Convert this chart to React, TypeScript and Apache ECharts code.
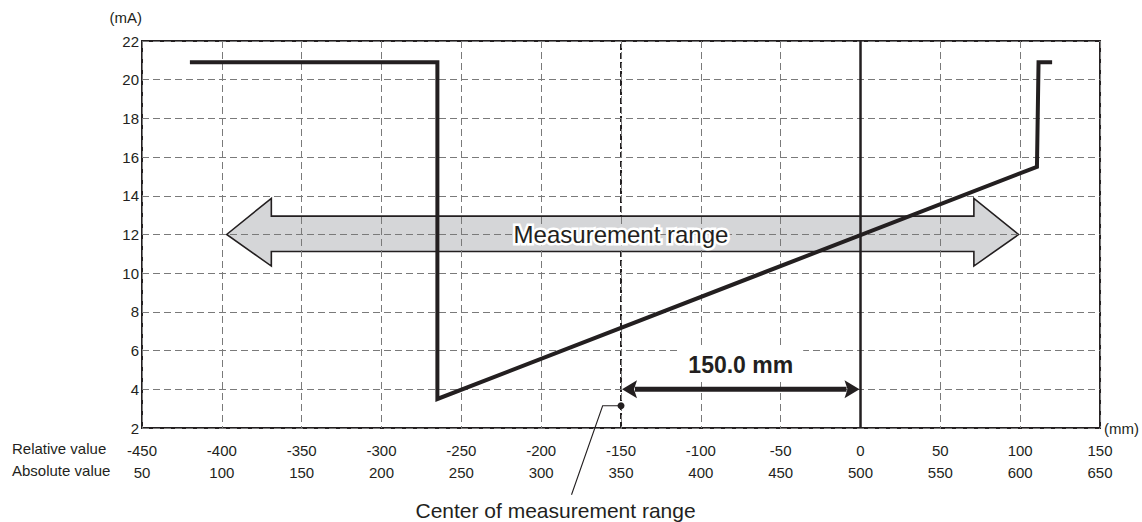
import React, { useEffect, useRef } from "react";
import * as echarts from "echarts";

// ---- data ----
const relativeTicks = [-450, -400, -350, -300, -250, -200, -150, -100, -50, 0, 50, 100, 150];
const absoluteTicks = [50, 100, 150, 200, 250, 300, 350, 400, 450, 500, 550, 600, 650];
const rowTitles = ["Relative value", "Absolute value"];

// analog output (mA) vs relative distance (mm)
const outputCurve: [number, number][] = [
  [-420, 20.9],
  [-265, 20.9],
  [-265, 3.5],
  [110.5, 15.5],
  [111.5, 20.9],
  [120, 20.9],
];
const zeroLine: [number, number][] = [[0, 2], [0, 22]];
const centerLine: [number, number][] = [[-150, 2], [-150, 22]];

// measurement range block arrow (mm, mA)
const rangeArrow: [number, number][] = [
  [-397, 12], [-369, 13.87], [-369, 12.95], [71, 12.95], [71, 13.87],
  [99, 12], [71, 10.37], [71, 11.12], [-369, 11.12], [-369, 10.37],
];
const rangeLabel = "Measurement range";
const rangeLabelPos: [number, number] = [-150, 12];

// 150.0 mm span arrow
const spanArrow: [number, number][] = [[-150, 4], [0, 4]];
const spanLabel = "150.0 mm";
const spanLabelPos: [number, number] = [-75, 5.25];

// center of measurement range callout
const centerDot: [number, number] = [-150, 3.15];
const leaderLine: [number, number][] = [[-150, 3.15], [-161.5, 3.15], [-181, -1.45]];
const calloutLabel = "Center of measurement range";
const calloutPos: [number, number] = [-191, -2.25];

const INK = "#231f20";
const FONT = "'Liberation Sans', Arial, Helvetica, sans-serif";

export default function App() {
  const ref = useRef<HTMLDivElement>(null);

  useEffect(() => {
    if (!ref.current) return;
    const chart = echarts.init(ref.current, null, { renderer: "svg" });

    const option: any = {
      animation: false,
      backgroundColor: "#ffffff",
      textStyle: { fontFamily: FONT },
      grid: {
        left: 142,
        right: 38,
        top: 41,
        bottom: 94,
        show: true,
        borderColor: INK,
        borderWidth: 2,
        backgroundColor: "transparent",
      },
      xAxis: {
        type: "value",
        min: -450,
        max: 150,
        interval: 50,
        z: 3,
        name: "(mm)",
        nameLocation: "end",
        nameGap: 4,
        nameTextStyle: { color: INK, fontSize: 15, fontFamily: FONT },
        axisLine: { show: false, onZero: false },
        axisTick: { show: false },
        splitLine: {
          show: true,
          lineStyle: { color: "#7a7a7a", width: 1, type: [7, 4] },
        },
        axisLabel: {
          show: true,
          showMinLabel: true,
          showMaxLabel: true,
          margin: 11,
          color: INK,
          fontSize: 15,
          fontFamily: FONT,
          lineHeight: 22,
          formatter: (v: number) => {
            const i = relativeTicks.indexOf(v);
            return i >= 0 ? `${relativeTicks[i]}\n${absoluteTicks[i]}` : "";
          },
        },
      },
      yAxis: {
        type: "value",
        min: 2,
        max: 22,
        interval: 2,
        z: 3,
        name: "(mA)",
        nameLocation: "end",
        nameGap: 16,
        nameTextStyle: { color: INK, fontSize: 15, fontFamily: FONT, align: "right" },
        axisLine: { show: false, onZero: false },
        axisTick: { show: false },
        splitLine: {
          show: true,
          lineStyle: { color: "#7a7a7a", width: 1, type: [7, 4] },
        },
        axisLabel: { color: INK, fontSize: 15, fontFamily: FONT, margin: 3 },
      },
      graphic: rowTitles.map((t, i) => ({
        type: "text",
        left: 12,
        top: 441 + i * 22,
        style: { text: t, fill: INK, fontSize: 15, fontFamily: FONT },
      })),
      series: [
        {
          type: "line",
          data: centerLine,
          z: 1,
          showSymbol: false,
          silent: true,
          lineStyle: { color: INK, width: 2, type: [6, 3] },
        },
        {
          type: "custom",
          z: 2,
          silent: true,
          clip: false,
          data: [[-150, 12]],
          renderItem: (_p: any, api: any) => ({
            type: "polygon",
            shape: { points: rangeArrow.map((p) => api.coord(p)) },
            style: { fill: "#d5d6d8", stroke: INK, lineWidth: 1.6 },
          }),
        },
        {
          type: "line",
          data: zeroLine,
          z: 5,
          showSymbol: false,
          silent: true,
          lineStyle: { color: INK, width: 2.5 },
        },
        {
          type: "line",
          data: outputCurve,
          z: 6,
          showSymbol: false,
          silent: true,
          lineStyle: { color: INK, width: 4, join: "miter", cap: "butt" },
        },
        {
          type: "custom",
          z: 8,
          silent: true,
          clip: false,
          data: [[-75, 4]],
          renderItem: (_p: any, api: any) => {
            const a = api.coord(spanArrow[0]);
            const b = api.coord(spanArrow[1]);
            const hl = 16;
            const hw = 9;
            const r = api.coord(rangeLabelPos);
            const s = api.coord(spanLabelPos);
            const dot = api.coord(centerDot);
            const lead = leaderLine.map((p) => api.coord(p));
            const c = api.coord(calloutPos);
            return {
              type: "group",
              children: [
                {
                  type: "text",
                  x: r[0],
                  y: r[1],
                  style: {
                    text: rangeLabel,
                    fill: INK,
                    fontSize: 24,
                    fontFamily: FONT,
                    align: "center",
                    verticalAlign: "middle",
                    stroke: "#ffffff",
                    lineWidth: 5,
                  },
                },
                {
                  type: "text",
                  x: s[0],
                  y: s[1],
                  style: {
                    text: spanLabel,
                    fill: INK,
                    fontSize: 23,
                    fontWeight: "bold",
                    fontFamily: FONT,
                    align: "center",
                    verticalAlign: "middle",
                    backgroundColor: "#ffffff",
                    padding: [5, 10],
                  },
                },
                {
                  type: "line",
                  shape: { x1: a[0] + hl - 2, y1: a[1], x2: b[0] - hl + 2, y2: b[1] },
                  style: { stroke: INK, lineWidth: 5 },
                },
                {
                  type: "polygon",
                  shape: { points: [[a[0] + 1, a[1]], [a[0] + hl, a[1] - hw], [a[0] + hl - 3, a[1]], [a[0] + hl, a[1] + hw]] },
                  style: { fill: INK },
                },
                {
                  type: "polygon",
                  shape: { points: [[b[0] - 1, b[1]], [b[0] - hl, b[1] - hw], [b[0] - hl + 3, b[1]], [b[0] - hl, b[1] + hw]] },
                  style: { fill: INK },
                },
                {
                  type: "polyline",
                  shape: { points: lead },
                  style: { stroke: INK, lineWidth: 1.1, fill: "none" },
                },
                {
                  type: "circle",
                  shape: { cx: dot[0], cy: dot[1], r: 3.5 },
                  style: { fill: INK },
                },
                {
                  type: "text",
                  x: c[0],
                  y: c[1],
                  style: {
                    text: calloutLabel,
                    fill: INK,
                    fontSize: 21,
                    fontFamily: FONT,
                    align: "center",
                    verticalAlign: "middle",
                  },
                },
              ],
            };
          },
        },
      ],
    };

    chart.setOption(option);
    return () => chart.dispose();
  }, []);

  return (
    <div
      ref={ref}
      style={{ position: "fixed", left: 0, top: 0, width: 1142, height: 522 }}
    />
  );
}
